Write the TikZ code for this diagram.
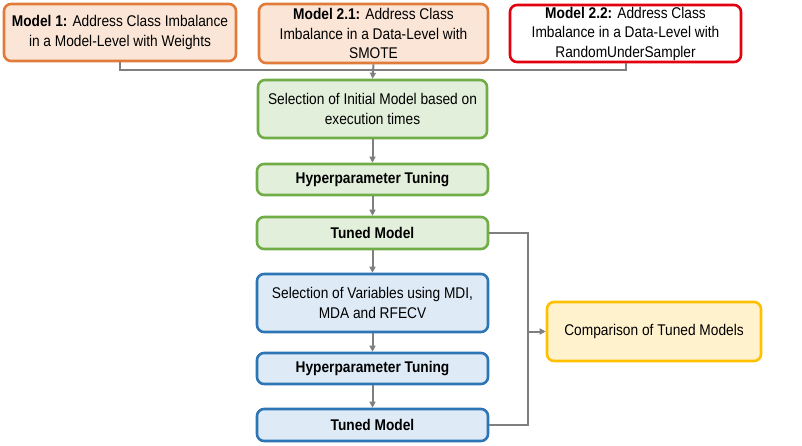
\documentclass[tikz,border=0pt]{standalone}
\usepackage{fontspec}
\setmainfont{Liberation Sans}[FakeStretch=0.885]
\usetikzlibrary{arrows.meta,positioning}
\definecolor{orB}{HTML}{E07B39}
\definecolor{orF}{HTML}{FBE5D6}
\definecolor{rdB}{HTML}{E3000F}
\definecolor{grB}{HTML}{70AD47}
\definecolor{grF}{HTML}{E2EFDA}
\definecolor{blB}{HTML}{2E75B6}
\definecolor{blF}{HTML}{DEEBF7}
\definecolor{ylB}{HTML}{FFC000}
\definecolor{ylF}{HTML}{FFF2CC}
\definecolor{lnC}{HTML}{7F7F7F}
\tikzset{
  box/.style={draw, line width=2.6pt, rounded corners=7pt, align=center, inner sep=1pt,
    font=\fontsize{15.5}{19.5}\selectfont, text=black},
  orbox/.style={box, draw=orB, fill=orF},
  rdbox/.style={box, draw=rdB, fill=white},
  grbox/.style={box, draw=grB, fill=grF},
  blbox/.style={box, draw=blB, fill=blF},
  ylbox/.style={box, draw=ylB, fill=ylF},
  conn/.style={draw=lnC, line width=2pt},
  arr/.style={conn, -{Triangle[length=6pt,width=6pt]}}
}
\begin{document}
\begin{tikzpicture}[x=1pt,y=-1pt]
\useasboundingbox (0,0) rectangle (802,445);
\node[orbox, minimum width=232pt, minimum height=57pt] (m1) at (120,32.5)
  {\textbf{Model 1:} Address Class Imbalance\\in a Model-Level with Weights};
\node[orbox, minimum width=229pt, minimum height=59pt] (m21) at (373.5,33.5)
  {\textbf{Model 2.1:} Address Class\\Imbalance in a Data-Level with\\SMOTE};
\node[rdbox, minimum width=231pt, minimum height=57pt] (m22) at (625.5,33.5)
  {\textbf{Model 2.2:} Address Class\\Imbalance in a Data-Level with\\RandomUnderSampler};
\node[grbox, minimum width=229pt, minimum height=58pt] (init) at (372.5,109)
  {Selection of Initial Model based on\\execution times};
\node[grbox, minimum width=231pt, minimum height=31pt] (hyp1) at (372.5,179.5)
  {\textbf{Hyperparameter Tuning}};
\node[grbox, minimum width=231pt, minimum height=32pt] (tun1) at (372.5,233)
  {\textbf{Tuned Model}};
\node[blbox, minimum width=231pt, minimum height=58pt] (sel) at (372.5,303)
  {Selection of Variables using MDI,\\MDA and RFECV};
\node[blbox, minimum width=231pt, minimum height=31pt] (hyp2) at (372.5,368.5)
  {\textbf{Hyperparameter Tuning}};
\node[blbox, minimum width=231pt, minimum height=32pt] (tun2) at (372.5,425)
  {\textbf{Tuned Model}};
\node[ylbox, minimum width=214pt, minimum height=59pt] (cmp) at (654,331.5)
  {Comparison of Tuned Models};
\coordinate (j) at (373.5,70);
\coordinate (r) at (528,331.5);
\draw[conn] (m1.south) |- (j) -| (m22.south);
\draw[arr] (m21.south) -- (init.north);
\draw[arr] (init.south) -- (hyp1.north);
\draw[arr] (hyp1.south) -- (tun1.north);
\draw[arr] (tun1.south) -- (sel.north);
\draw[arr] (sel.south) -- (hyp2.north);
\draw[arr] (hyp2.south) -- (tun2.north);
\draw[conn] (tun1.east) -| (r) |- (tun2.east);
\draw[arr] (r) -- (cmp.west);
\end{tikzpicture}
\end{document}
